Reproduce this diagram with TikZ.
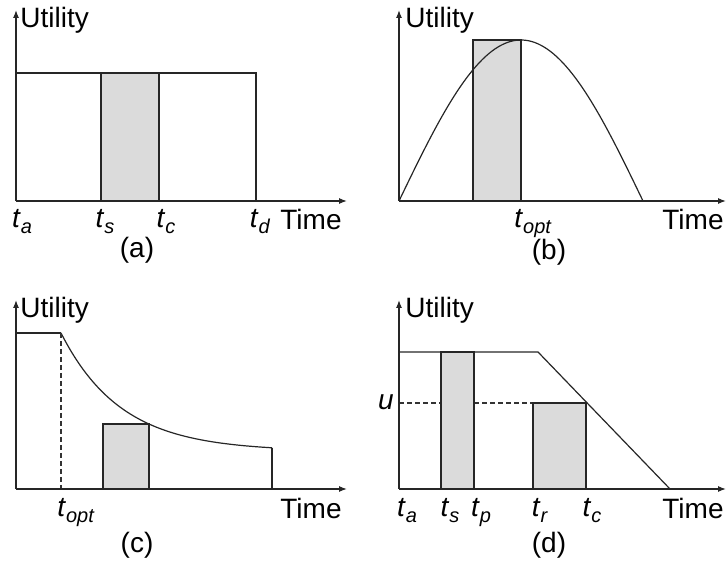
\documentclass[tikz,border=0pt]{standalone}
\usepackage{fontspec}
\setmainfont{Liberation Sans}
\usetikzlibrary{arrows.meta}

\newcommand{\tlab}[1]{\textit{t}\raisebox{-0.18em}{\fontsize{10}{11}\selectfont\textit{#1}}}

\begin{document}
\begin{tikzpicture}[x=0.5pt, y=0.5pt,
    axis/.style={-{Latex[length=4pt,width=3pt]}, line width=0.6pt, draw=black!85},
    line/.style={line width=0.6pt, draw=black!85},
    slot/.style={line width=0.6pt, draw=black!85, fill=black!14},
    guide/.style={line width=0.6pt, draw=black!80, dash pattern=on 2.5pt off 1.5pt},
    lbl/.style={anchor=base, inner sep=0pt, font=\fontsize{14}{16}\selectfont}
]
\useasboundingbox (0,0) rectangle (727,565);

% (a)
\fill[slot] (101,364) rectangle (159,492);
\draw[line] (16,492) -- (256,492) -- (256,364);
\draw[axis] (16,364) -- (16,555);
\draw[axis] (16,364) -- (347,364);
\node[lbl, anchor=base west] (ua) at (20,537) {Utility};
\node[lbl] (ta) at (22,337) {\tlab{a}};
\node[lbl] (tsa) at (105,337) {\tlab{s}};
\node[lbl] (tca) at (166,337) {\tlab{c}};
\node[lbl] (tda) at (260,337) {\tlab{d}};
\node[lbl] (timea) at (311,335) {Time};
\node[lbl] (capa) at (137,307) {(a)};

% (b)
\fill[slot] (473,364) rectangle (521,525);
\draw[line] plot[domain=0:180, samples=80] ({399+244*(\x/180)},{364+161*sin(\x)});
\draw[axis] (399,364) -- (399,555);
\draw[axis] (399,364) -- (726,364);
\node[lbl, anchor=base west] (ub) at (405,537) {Utility};
\node[lbl] (toptb) at (533,337) {\tlab{opt}};
\node[lbl] (timeb) at (693,335) {Time};
\node[lbl] (capb) at (549,305) {(b)};

% (c)
\fill[slot] (103,76) rectangle (149,141);
\draw[line] (16,232) -- (61,232);
\draw[line] plot[domain=61:272, samples=80] (\x,{113.7+118.3*exp(-(\x-61)/60)});
\draw[line] (272,117) -- (272,76);
\draw[guide] (61,232) -- (61,76);
\draw[axis] (16,76) -- (16,265);
\draw[axis] (16,76) -- (347,76);
\node[lbl, anchor=base west] (uc) at (20,247) {Utility};
\node[lbl] (toptc) at (76,48) {\tlab{opt}};
\node[lbl] (timec) at (311,46) {Time};
\node[lbl] (capc) at (137,12) {(c)};

% (d)
\draw[guide] (399,162) -- (441,162);
\draw[guide] (474,162) -- (533,162);
\fill[slot] (441,76) rectangle (474,213);
\fill[slot] (533,76) rectangle (586,162);
\draw[line] (399,213) -- (538,213) -- (670,76);
\draw[axis] (399,76) -- (399,265);
\draw[axis] (399,76) -- (726,76);
\node[lbl, anchor=base west] (ud) at (405,247) {Utility};
\node[lbl, anchor=base] (uval) at (386,155) {\textit{u}};
\node[lbl] (tad) at (407,48) {\tlab{a}};
\node[lbl] (tsd) at (450,48) {\tlab{s}};
\node[lbl] (tpd) at (481,48) {\tlab{p}};
\node[lbl] (trd) at (540,48) {\tlab{r}};
\node[lbl] (tcd) at (592,48) {\tlab{c}};
\node[lbl] (timed) at (693,46) {Time};
\node[lbl] (capd) at (549,12) {(d)};
\end{tikzpicture}
\end{document}
